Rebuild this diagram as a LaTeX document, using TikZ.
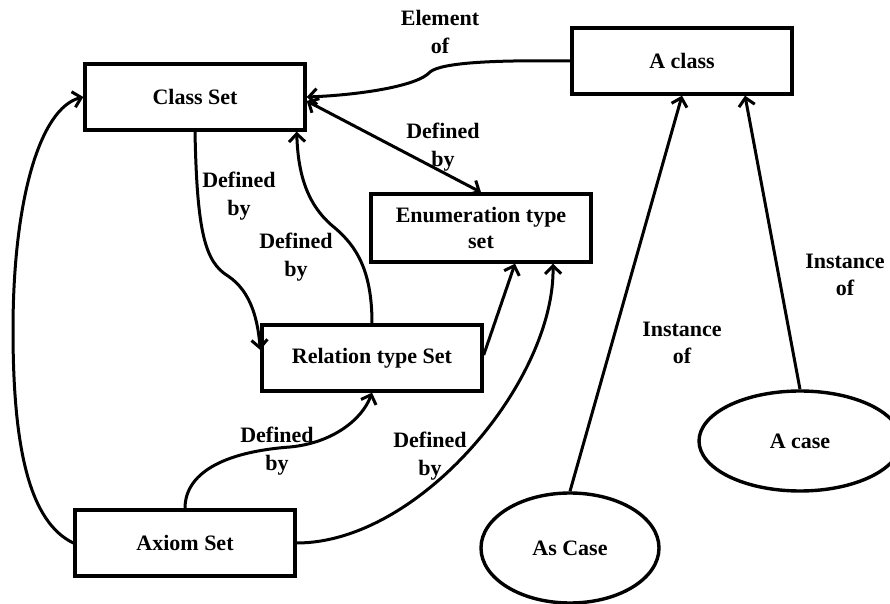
\documentclass[tikz,border=0pt]{standalone}
\usepackage{fontspec}
\setmainfont{Liberation Serif}
\usepackage{xcolor}
\usetikzlibrary{arrows.meta,shapes.geometric}
\definecolor{ink}{HTML}{000000}
\tikzset{
  setBox/.style={draw=ink, line width=1.7pt, minimum width=110pt, minimum height=33pt, align=center, font=\bfseries\fontsize{11}{13}\selectfont},
  caseOval/.style={ellipse, draw=ink, line width=1.7pt, inner sep=0pt, font=\bfseries\fontsize{11}{13}\selectfont},
  link/.style={draw=ink, line width=1.5pt, ->},
  dualLink/.style={draw=ink, line width=1.5pt, <->},
  linkLabel/.style={text=ink, align=center, inner sep=0pt, font=\bfseries\fontsize{11}{13.8}\selectfont},
  >={Straight Barb[length=4pt,width=8pt]}
}
\begin{document}
\begin{tikzpicture}[x=0.5pt,y=-0.5pt]
  \useasboundingbox (0,0) rectangle (890,604);

  \node[setBox] (classSet) at (195,97) {Class Set};
  \node[setBox] (aClass) at (682,61) {A class};
  \node[setBox, minimum height=34pt] (enumSet) at (481,228) {Enumeration type\\set};
  \node[setBox] (relSet) at (372,358) {Relation type Set};
  \node[setBox] (axiomSet) at (185,543) {Axiom Set};
  \node[caseOval, minimum width=89pt, minimum height=55pt] (asCase) at (570,548) {As Case};
  \node[caseOval, minimum width=101pt, minimum height=50pt] (aCase) at (800,441) {A case};

  \draw[link] (aClass.west) .. controls (500,60) and (442,62) .. (430,72)
    .. controls (418,86) and (360,95) .. (classSet.east);
  \draw[dualLink] ([yshift=-2pt]classSet.east) -- (enumSet.north);
  \draw[link] (classSet.south) .. controls (197,232) and (205,262) .. (228,276)
    .. controls (252,292) and (258,322) .. ([yshift=4pt]relSet.west);
  \draw[link] (relSet.north) .. controls (372,270) and (356,246) .. (335,228)
    .. controls (306,205) and (298,172) .. ([xshift=-5pt]classSet.south east);
  \draw[link] ([yshift=1.5pt]relSet.east) -- ([xshift=17pt]enumSet.south);
  \draw[link] (axiomSet.north) .. controls (185,474) and (222,452) .. (290,447)
    .. controls (332,443) and (362,420) .. (relSet.south);
  \draw[link] (axiomSet.east) .. controls (420,543) and (555,380) .. ([xshift=36pt]enumSet.south);
  \draw[link] (axiomSet.west) .. controls (30,522) and (13,450) .. (13,330)
    .. controls (13,200) and (40,108) .. (classSet.west);
  \draw[link] (asCase.north) -- (aClass.south);
  \draw[link] (aCase.north) -- ([xshift=31.5pt]aClass.south);

  \node[linkLabel] (lblElement) at (440,32) {Element\\of};
  \node[linkLabel] (lblClassEnum) at (443,147) {Defined\\by};
  \node[linkLabel] (lblClassRel) at (239,196) {Defined\\by};
  \node[linkLabel] (lblRelClass) at (296,257) {Defined\\by};
  \node[linkLabel] (lblAxiomRel) at (277,451) {Defined\\by};
  \node[linkLabel] (lblAxiomEnum) at (430,456) {Defined\\by};
  \node[linkLabel] (lblAsCase) at (682,343) {Instance\\of};
  \node[linkLabel] (lblACase) at (845,275) {Instance\\of};
\end{tikzpicture}
\end{document}
